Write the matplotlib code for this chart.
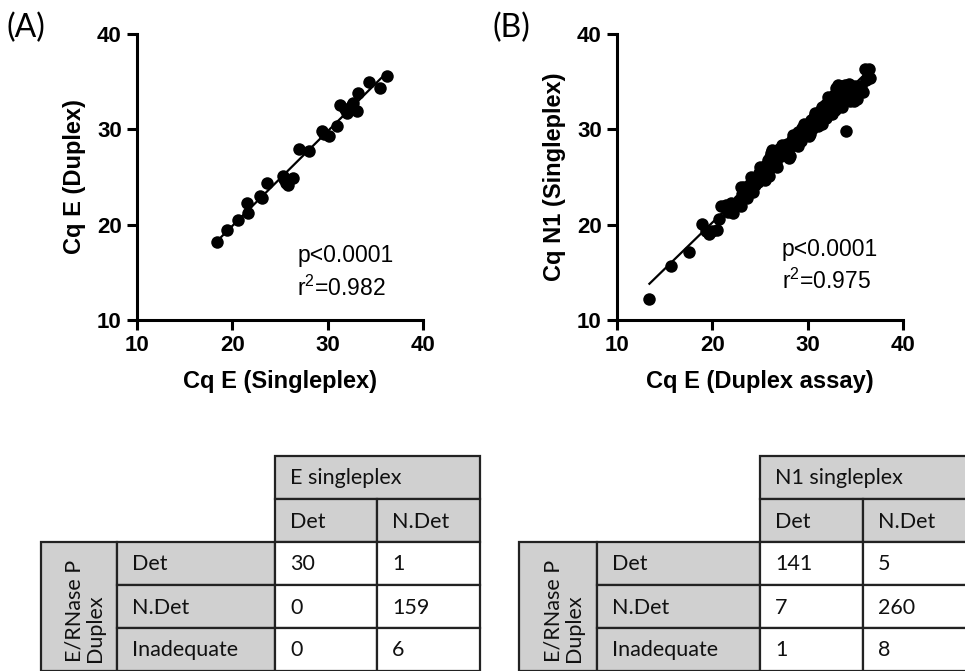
import numpy as np
import matplotlib
matplotlib.use("Agg")
import matplotlib.pyplot as plt
from matplotlib.patches import Rectangle

plt.rcParams['font.family'] = ['Liberation Sans', 'DejaVu Sans']
plt.rcParams['mathtext.fontset'] = 'custom'
plt.rcParams['mathtext.rm'] = 'Liberation Sans'
plt.rcParams['mathtext.it'] = 'Liberation Sans:italic'
plt.rcParams['mathtext.bf'] = 'Liberation Sans:bold'

# ---------------- data ----------------
a_x = [18.4, 19.4, 20.6, 21.5, 21.6, 23.1, 23.6, 25.3, 25.6, 25.8, 26.4, 27.0, 28.0,
       29.4, 30.1, 31.0, 31.3, 32.0, 32.4, 32.7, 33.1, 33.2, 34.3, 35.5, 36.2,
       22.9, 25.4, 29.6, 31.8, 32.6]
a_y = [18.2, 19.4, 20.5, 22.3, 21.2, 22.8, 24.4, 25.1, 24.4, 24.2, 24.9, 27.9, 27.7,
       29.8, 29.3, 30.3, 32.6, 31.7, 32.2, 32.8, 31.9, 33.8, 35.0, 34.3, 35.6,
       23.0, 24.8, 29.5, 32.1, 32.5]

b_x = [13.4, 15.7, 17.6, 18.9, 19.3, 19.6, 20.0, 20.5, 20.7, 20.9, 21.4, 21.6, 21.9,
       22.2, 22.5, 22.8, 23.1, 23.3, 23.6, 23.8, 24.0, 24.2, 24.4, 24.6, 24.8, 24.9,
       25.1, 25.3, 25.4, 25.6, 25.7, 25.8, 25.9, 26.0, 26.1, 26.2, 26.3, 26.4, 26.6,
       26.7, 26.9, 27.0, 27.2, 27.4, 27.5, 27.7, 27.9, 28.1, 28.3, 28.4, 28.6, 28.8,
       28.9, 29.0, 29.2, 29.4, 29.5, 29.7, 29.8, 30.0, 30.1, 30.3, 30.4, 30.6, 30.7,
       30.9, 31.0, 31.1, 31.3, 31.4, 31.5, 31.7, 31.8, 31.9, 32.0, 32.2, 32.3, 32.4,
       32.6, 32.7, 32.8, 32.9, 33.0, 33.1, 33.2, 33.3, 33.4, 33.5, 33.6, 33.7, 34.0,
       33.9, 34.0, 34.2, 34.3, 34.4, 34.6, 34.8, 35.0, 35.2, 35.4, 35.6, 35.8, 36.0,
       36.1, 36.3, 36.4, 36.5, 26.5, 27.8, 29.3, 30.5, 24.5, 25.2,
       22.0, 23.0, 24.1, 25.0, 26.3, 27.3, 28.5, 29.6, 30.8, 32.1, 33.0,
       23.0, 24.3, 25.5, 26.8, 28.0, 29.0, 30.2, 31.5, 32.6, 33.6, 34.9]
b_y = [12.2, 15.7, 17.1, 20.1, 19.3, 19.0, 19.3, 19.4, 20.6, 22.0, 22.1, 21.3, 21.6,
       21.2, 22.3, 22.6, 23.2, 24.0, 22.8, 23.7, 24.3, 24.0, 24.7, 25.0, 24.5, 25.4,
       25.6, 25.1, 25.9, 26.3, 25.4, 26.8, 25.1, 27.1, 26.4, 27.5, 26.0, 27.7, 27.3,
       26.6, 27.6, 27.9, 27.2, 28.1, 27.6, 28.3, 27.8, 27.2, 28.3, 28.9, 28.5, 29.2,
       28.7, 29.7, 29.2, 30.1, 29.6, 30.3, 29.9, 30.6, 29.3, 30.4, 31.0, 30.7, 31.3,
       30.9, 31.6, 30.4, 31.9, 31.3, 32.3, 31.7, 32.5, 31.2, 32.8, 32.2, 33.2, 31.8,
       33.0, 32.4, 33.6, 32.0, 33.3, 34.0, 34.7, 32.6, 33.7, 34.5, 33.1, 34.2, 29.8,
       34.6, 33.4, 34.1, 34.8, 33.0, 34.3, 33.6, 34.5, 33.2, 34.0, 34.5, 33.9, 36.3,
       35.2, 35.6, 36.3, 35.4, 26.9, 28.5, 28.8, 30.0, 24.2, 24.8,
       22.3, 23.9, 25.0, 26.0, 27.8, 28.4, 29.4, 30.6, 31.7, 33.4, 34.3,
       22.0, 23.4, 24.7, 26.0, 27.0, 28.2, 29.5, 30.6, 31.6, 32.3, 33.0]

stats_a = ["p<0.0001", r"r$^{\mathrm{2}}$=0.982"]
stats_b = ["p<0.0001", r"r$^{\mathrm{2}}$=0.975"]

ticks = [10, 20, 30, 40]

tab_a_title = "E singleplex"
tab_b_title = "N1 singleplex"
tab_cols = ["Det", "N.Det"]
tab_rows = ["Det", "N.Det", "Inadequate"]
tab_side = "E/RNase P\nDuplex"
tab_a_vals = [[30, 1], [0, 159], [0, 6]]
tab_b_vals = [[141, 5], [7, 260], [1, 8]]

# ---------------- figure ----------------
W, H = 965, 671
fig = plt.figure(figsize=(W / 100, H / 100), dpi=100)


def px_axes(l, r, t, b):
    return fig.add_axes([l / W, 1 - b / H, (r - l) / W, (b - t) / H])


def scatter_panel(ax, xs, ys, xlabel, ylabel, stats, stat_xy):
    xs = np.asarray(xs); ys = np.asarray(ys)
    ax.plot(xs, ys, 'o', color='black', ms=9.0, mew=0, zorder=3, clip_on=False)
    k, c = np.polyfit(xs, ys, 1)
    xx = np.array([xs.min(), xs.max()])
    ax.plot(xx, k * xx + c, color='black', lw=1.6, zorder=2)
    ax.set_xlim(10, 40); ax.set_ylim(10, 40)
    ax.set_xticks(ticks); ax.set_yticks(ticks)
    for s in ['top', 'right']:
        ax.spines[s].set_visible(False)
    for s in ['left', 'bottom']:
        ax.spines[s].set_linewidth(2.2)
    ax.tick_params(direction='out', length=7, width=2.2, labelsize=16, pad=4)
    for lab in ax.get_xticklabels() + ax.get_yticklabels():
        lab.set_fontweight('bold')
    ax.set_xlabel(xlabel, fontsize=17, fontweight='bold', labelpad=10)
    ax.set_ylabel(ylabel, fontsize=17, fontweight='bold', labelpad=8)
    ax.text(stat_xy[0], stat_xy[1], stats[0] + "\n" + stats[1], fontsize=16.5,
            ha='left', va='center', linespacing=1.4)


axA = px_axes(137, 423, 34, 320)
scatter_panel(axA, a_x, a_y, "Cq E (Singleplex)", "Cq E (Duplex)", stats_a, (26.8, 15.0))
axB = px_axes(617, 903, 34, 320)
scatter_panel(axB, b_x, b_y, "Cq E (Duplex assay)", "Cq N1 (Singleplex)", stats_b, (27.3, 15.7))

fig.text(6 / W, 1 - 28 / H, "(A)", fontsize=23, family=['Lato', 'DejaVu Sans'],
         ha='left', va='center')
fig.text(492 / W, 1 - 28 / H, "(B)", fontsize=23, family=['Lato', 'DejaVu Sans'],
         ha='left', va='center')

# ---------------- tables ----------------
ov = fig.add_axes([0, 0, 1, 1])
ov.set_xlim(0, W); ov.set_ylim(H, 0); ov.axis('off')
GRAY = '#d0d0d0'
TF = ['Lato', 'DejaVu Sans']
TS = 15.5


def cell(x0, x1, y0, y1, fill, text=None, pad=15):
    ov.add_patch(Rectangle((x0, y0), x1 - x0, y1 - y0, facecolor=fill,
                           edgecolor='#222222', lw=1.6))
    if text is not None:
        ov.text(x0 + pad, (y0 + y1) / 2 + 1, str(text), fontsize=TS, family=TF,
                ha='left', va='center', color='#111111')


def draw_table(xe, title, vals):
    ye = [456, 499, 542, 585, 628, 671]
    cell(xe[3], xe[5], ye[0], ye[1], GRAY, title)
    cell(xe[3], xe[4], ye[1], ye[2], GRAY, tab_cols[0])
    cell(xe[4], xe[5], ye[1], ye[2], GRAY, tab_cols[1])
    cell(xe[0], xe[1], ye[2], ye[5], GRAY)
    ov.text((xe[0] + xe[1]) / 2 + 6, 662, tab_side, fontsize=TS,
            family=TF, rotation=90, ha='center', va='bottom', multialignment='left',
            linespacing=1.05, color='#111111')
    for i, r in enumerate(tab_rows):
        cell(xe[1], xe[3], ye[2 + i], ye[3 + i], GRAY, r)
        for j in range(2):
            cell(xe[3 + j], xe[4 + j], ye[2 + i], ye[3 + i], 'white', vals[i][j])


draw_table([41, 117, 117, 275, 377, 480], tab_a_title, tab_a_vals)
draw_table([519, 597, 597, 760, 863, 968], tab_b_title, tab_b_vals)

fig.savefig("out.png", dpi=100)
